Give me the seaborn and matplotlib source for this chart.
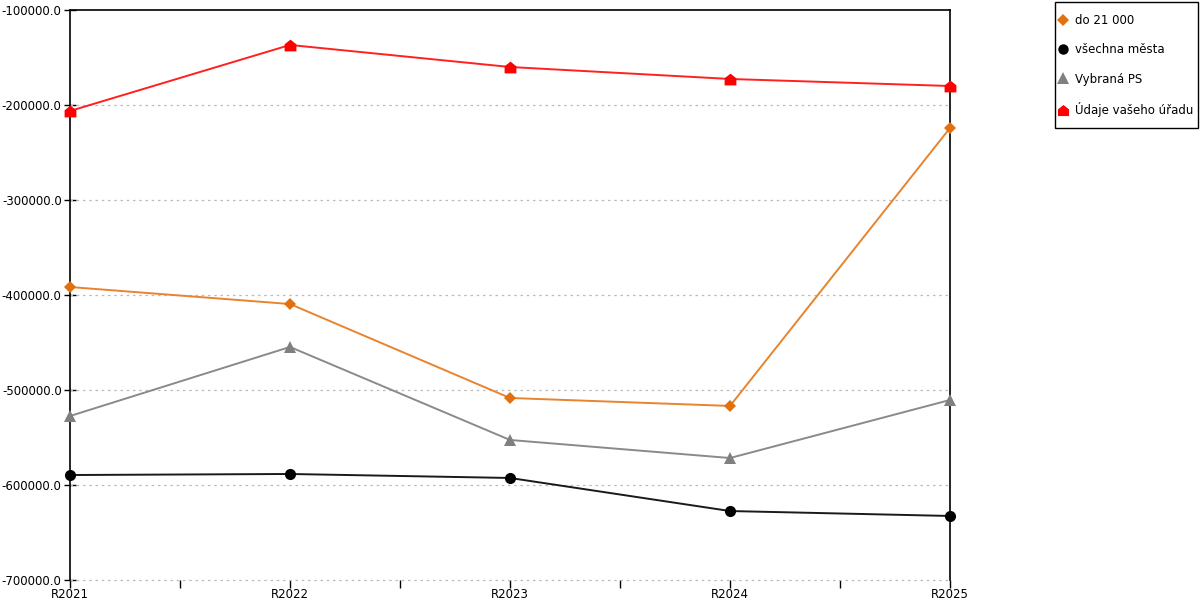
import matplotlib
matplotlib.use("Agg")
import matplotlib.pyplot as plt
import seaborn as sns
import pandas as pd
import numpy as np
from matplotlib.path import Path
from matplotlib.lines import Line2D
from matplotlib.patches import Rectangle
from matplotlib.ticker import FixedLocator, FuncFormatter

categories = ["R2021", "R2022", "R2023", "R2024", "R2025"]
do_21000 = [-391600, -409500, -508400, -516800, -224200]
vsechna_mesta = [-589500, -588400, -592600, -627400, -632600]
vybrana_ps = [-527400, -454700, -552600, -571600, -510500]
udaje_uradu = [-206300, -136800, -160000, -172600, -180000]

series_names = ["do 21 000", "všechna města", "Vybraná PS", "Údaje vašeho úřadu"]
series_values = [do_21000, vsechna_mesta, vybrana_ps, udaje_uradu]
y_ticks = [-700000, -600000, -500000, -400000, -300000, -200000, -100000]

house = Path([(-1, -1), (1, -1), (1, 0.2), (0, 1), (-1, 0.2), (-1, -1)],
             [Path.MOVETO, Path.LINETO, Path.LINETO, Path.LINETO, Path.LINETO, Path.CLOSEPOLY])

colors = ["#E2700F", "#000000", "#808080", "#FF0000"]
line_colors = ["#E8832E", "#1a1a1a", "#8a8a8a", "#FF2020"]
markers = ["D", "o", "^", house]
msizes = [6.5, 8, 9, 8.5]

sns.set_style("white")
plt.rcParams['font.family'] = ['DejaVu Sans']
plt.rcParams['text.color'] = 'black'
plt.rcParams['xtick.color'] = 'black'
plt.rcParams['ytick.color'] = 'black'

fig = plt.figure(figsize=(12, 6), dpi=100)
ax = fig.add_axes([70/1200, 20/600, 880/1200, 570/600])

frames = []
for name, vals in zip(series_names, series_values):
    frames.append(pd.DataFrame({"x": categories, "y": vals, "s": name}))
df = pd.concat(frames, ignore_index=True)

for i, name in enumerate(series_names):
    sub = df[df["s"] == name]
    sns.lineplot(data=sub, x="x", y="y", ax=ax, color=line_colors[i], linewidth=1.4,
                 marker=markers[i], markersize=msizes[i], markerfacecolor=colors[i],
                 markeredgecolor=colors[i], markeredgewidth=0, legend=False,
                 zorder=3, clip_on=False, sort=False)

ax.set_xlim(0, 4)
ax.set_ylim(-700000, -100000)
ax.set_xlabel("")
ax.set_ylabel("")

ax.yaxis.set_major_locator(FixedLocator(y_ticks))
ax.yaxis.set_major_formatter(FuncFormatter(lambda v, p: f"{v:.1f}"))
ax.set_xticks(range(len(categories)))
ax.set_xticklabels(categories)
ax.set_xticks([0.5, 1.5, 2.5, 3.5], minor=True)

for yv in y_ticks[:-1]:
    ax.axhline(yv, color="#bbbbbb", linestyle=(0, (2, 3)), linewidth=0.9, zorder=1, clip_on=False)

for side in ["top", "left", "right"]:
    ax.spines[side].set_visible(True)
    ax.spines[side].set_color("black")
    ax.spines[side].set_linewidth(1.2)
ax.spines["bottom"].set_visible(False)

ax.tick_params(axis="y", which="major", direction="inout", length=8, width=1, colors="black",
               labelsize=8.5, pad=2, left=True)
ax.tick_params(axis="x", which="major", direction="out", length=6, width=1, colors="black",
               labelsize=8.5, pad=0, bottom=True)
ax.tick_params(axis="x", which="minor", direction="out", length=6, width=1, colors="black",
               bottom=True)

handles = [Line2D([0], [0], linestyle="none", marker=markers[i], markersize=msizes[i] - 0.5,
                  markerfacecolor=colors[i], markeredgecolor=colors[i], markeredgewidth=0)
           for i in range(len(series_names))]
fig.patches.append(Rectangle((1055/1200, 1 - 128/600), 143/1200, 126/600,
                             transform=fig.transFigure, fill=False, edgecolor="black",
                             linewidth=1.0))
leg = fig.legend(handles, series_names, loc="upper left", bbox_to_anchor=(1058/1200, 1 - 14/600),
                 frameon=False, fontsize=8.5, labelcolor="black",
                 handlelength=0.8, handletextpad=0.65, labelspacing=1.38, borderpad=0,
                 borderaxespad=0)

fig.savefig("out.png", dpi=100)
